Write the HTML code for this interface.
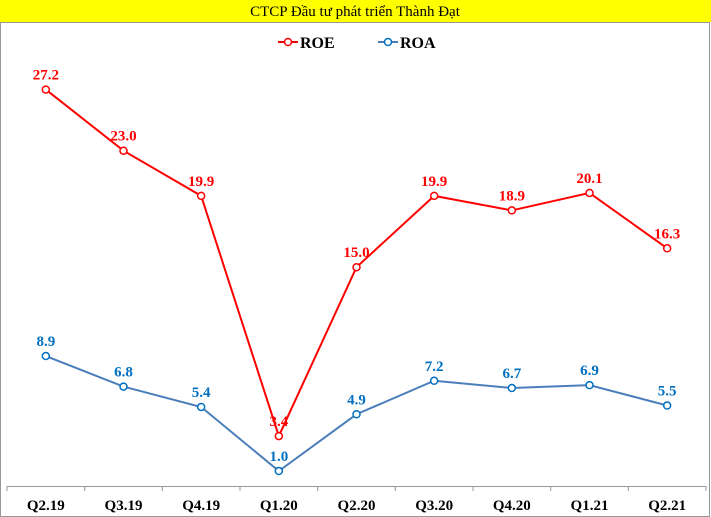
<!DOCTYPE html>
<html><head><meta charset="utf-8"><style>
body{margin:0;background:#fff}
svg{display:block;font-family:"Liberation Serif",serif}
</style></head><body>
<svg width="711" height="517">
<rect x="0" y="0" width="711" height="22" fill="#ffff00"/>
<text x="355" y="16" text-anchor="middle" font-size="15">CTCP Đầu tư phát triển Thành Đạt</text>
<rect x="0.5" y="22.5" width="709" height="494" fill="none" stroke="#999"/>
<g>
<g><line x1="278" y1="42" x2="298" y2="42" stroke="#ff0000" stroke-width="2"/><circle cx="288" cy="42" r="3.5" fill="#fff" stroke="#ff0000" stroke-width="1.5"/><text x="300" y="48" font-size="16" font-weight="bold">ROE</text></g>
<g><line x1="378" y1="42" x2="398" y2="42" stroke="#4a7ebb" stroke-width="2"/><circle cx="388" cy="42" r="3.5" fill="#fff" stroke="#0070c0" stroke-width="1.5"/><text x="400" y="48" font-size="16" font-weight="bold">ROA</text></g>
</g>
<g id="axis"></g>
<g id="series"></g>
</svg>
<script>
const categories=["Q2.19","Q3.19","Q4.19","Q1.20","Q2.20","Q3.20","Q4.20","Q1.21","Q2.21"];
const roe=[27.2,23.0,19.9,3.4,15.0,19.9,18.9,20.1,16.3];
const roa=[8.9,6.8,5.4,1.0,4.9,7.2,6.7,6.9,5.5];
const NS="http://www.w3.org/2000/svg";
const x0=7,x1=706,yZero=485.6,k=14.56;
const step=(x1-x0)/categories.length;
const xs=i=>x0+step*(i+0.5);
const ys=v=>yZero-v*k;
function mk(t,a,p){const e=document.createElementNS(NS,t);for(const n in a)e.setAttribute(n,a[n]);p.appendChild(e);return e;}
const ax=document.getElementById('axis');
const base=mk('line',{x1:x0,y1:486.5,x2:x1,y2:486.5,stroke:'#999'},ax);


for(let i=0;i<=categories.length;i++){
 const t=mk('line',{x1:x0+step*i,y1:486,x2:x0+step*i,y2:491,stroke:'#999'},ax);
 
 
}
categories.forEach((c,i)=>{
 const t=mk('text',{x:xs(i),y:510,'text-anchor':'middle','font-size':15,'font-weight':'bold'},ax);
 t.textContent=c;
 
 
});
const sg=document.getElementById('series');
function series(vals,line,mark,name){
 const g=mk('g',{},sg);
 
 
 const pl=mk('polyline',{points:vals.map((v,i)=>xs(i)+','+ys(v)).join(' '),fill:'none',stroke:line,'stroke-width':2},g);
 
 
 vals.forEach((v,i)=>{
  const c=mk('circle',{cx:xs(i),cy:ys(v),r:3.5,fill:'#fff',stroke:mark,'stroke-width':1.5},g);
  
  
  const t=mk('text',{x:xs(i),y:ys(v)-10,'text-anchor':'middle','font-size':15,'font-weight':'bold',fill:mark},g);
  t.textContent=v.toFixed(1);
  
  
 });
}
series(roa,'#4a7ebb','#0070c0','roa');
series(roe,'#ff0000','#ff0000','roe');
</script>
</body></html>
